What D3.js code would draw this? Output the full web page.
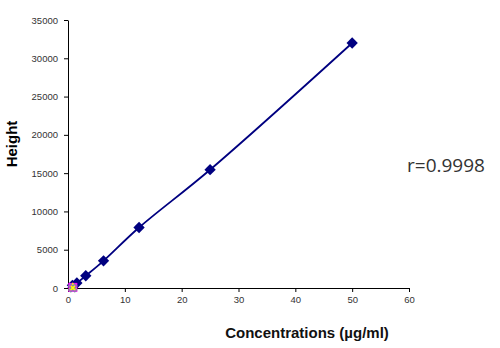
<!DOCTYPE html>
<html>
<head>
<meta charset="utf-8">
<script src="https://cdn.jsdelivr.net/npm/d3@7"></script>
<style>
  body { margin: 0; background: #fff; }
  .axis text { font-family: "Liberation Sans", Arial, sans-serif; font-size: 9.5px; fill: #333; }
  .axis path, .axis line { stroke: #000; }
</style>
</head>
<body>
<div id="chart"></div>
<script>
// standard curve points
var concentrations = [0.78, 1.56, 3.125, 6.25, 12.5, 25, 50];
var heights = [350, 650, 1600, 3550, 7900, 15450, 32000];
// blank samples sitting at the origin
var blankSquare = [{x: 0.85, y: 80}];
var blankTriangle = [{x: 0.85, y: 60}];
var blankCross = [{x: 0.85, y: 0}];
var xTicks = [0, 10, 20, 30, 40, 50, 60];
var yTicks = [0, 5000, 10000, 15000, 20000, 25000, 30000, 35000];

var W = 500, H = 348;
var margin = {top: 20, right: 91, bottom: 60, left: 68};
var width = W - margin.left - margin.right;
var height = H - margin.top - margin.bottom;

var svg = d3.select("#chart").append("svg")
    .attr("width", W)
    .attr("height", H)
    .append("g")
    .attr("transform", "translate(" + margin.left + "," + margin.top + ")");

var x = d3.scaleLinear().domain([0, 60]).range([0, width]);
var y = d3.scaleLinear().domain([0, 35000]).range([height, 0]);

svg.append("g")
    .attr("class", "axis")
    .attr("transform", "translate(0," + height + ")")
    .call(d3.axisBottom(x).tickValues(xTicks).tickFormat(d3.format("d")).tickSize(4).tickSizeOuter(0).tickPadding(3))
    .selectAll("text").attr("dy", "0.85em");

svg.append("g")
    .attr("class", "axis")
    .call(d3.axisLeft(y).tickValues(yTicks).tickFormat(d3.format("d")).tickSize(4).tickSizeOuter(0).tickPadding(6));

var pts = concentrations.map(function(c, i) { return {x: c, y: heights[i]}; });

var line = d3.line()
    .x(function(d) { return x(d.x); })
    .y(function(d) { return y(d.y); })
    .curve(d3.curveCatmullRom.alpha(0.5));

svg.append("path")
    .datum([{x: 0, y: 0}].concat(pts))
    .attr("fill", "none")
    .attr("stroke", "#000080")
    .attr("stroke-width", 1.8)
    .attr("d", line);

svg.selectAll(".pt")
    .data(pts)
    .enter().append("path")
    .attr("class", "pt")
    .attr("transform", function(d) { return "translate(" + x(d.x) + "," + y(d.y) + ") rotate(45)"; })
    .attr("d", d3.symbol().type(d3.symbolSquare).size(64))
    .attr("fill", "#000080");

// blank markers drawn on top
svg.selectAll(".sq")
    .data(blankSquare)
    .enter().append("rect")
    .attr("x", function(d) { return x(d.x) - 4.5; })
    .attr("y", function(d) { return y(d.y) - 4.5; })
    .attr("width", 9)
    .attr("height", 9)
    .attr("fill", "#ff00ff");

svg.selectAll(".tri")
    .data(blankTriangle)
    .enter().append("path")
    .attr("transform", function(d) { return "translate(" + x(d.x) + "," + y(d.y) + ")"; })
    .attr("d", d3.symbol().type(d3.symbolTriangle).size(36))
    .attr("fill", "#ffff00");

svg.selectAll(".cross")
    .data(blankCross)
    .enter().append("path")
    .attr("transform", function(d) { return "translate(" + x(d.x) + "," + y(d.y) + ") rotate(45)"; })
    .attr("d", d3.symbol().type(d3.symbolCross).size(40))
    .attr("fill", "none")
    .attr("stroke", "#8a80b0")
    .attr("stroke-width", 1.2);

svg.append("text")
    .attr("transform", "translate(" + (-51) + "," + (height / 2 - 10) + ") rotate(-90)")
    .attr("text-anchor", "middle")
    .style("font-family", "'Liberation Sans', Arial, sans-serif")
    .style("font-size", "15px")
    .style("font-weight", "bold")
    .text("Height");

svg.append("text")
    .attr("x", 239)
    .attr("y", height + 50)
    .attr("text-anchor", "middle")
    .style("font-family", "'Liberation Sans', Arial, sans-serif")
    .style("font-size", "15px")
    .style("font-weight", "bold")
    .style("fill", "#111")
    .text("Concentrations (µg/ml)");

svg.append("text")
    .attr("x", 339)
    .attr("y", 152)
    .style("font-family", "'Open Sans', sans-serif")
    .style("font-size", "19px")
    .style("fill", "#333")
    .text("r=0.9998");
</script>
</body>
</html>
